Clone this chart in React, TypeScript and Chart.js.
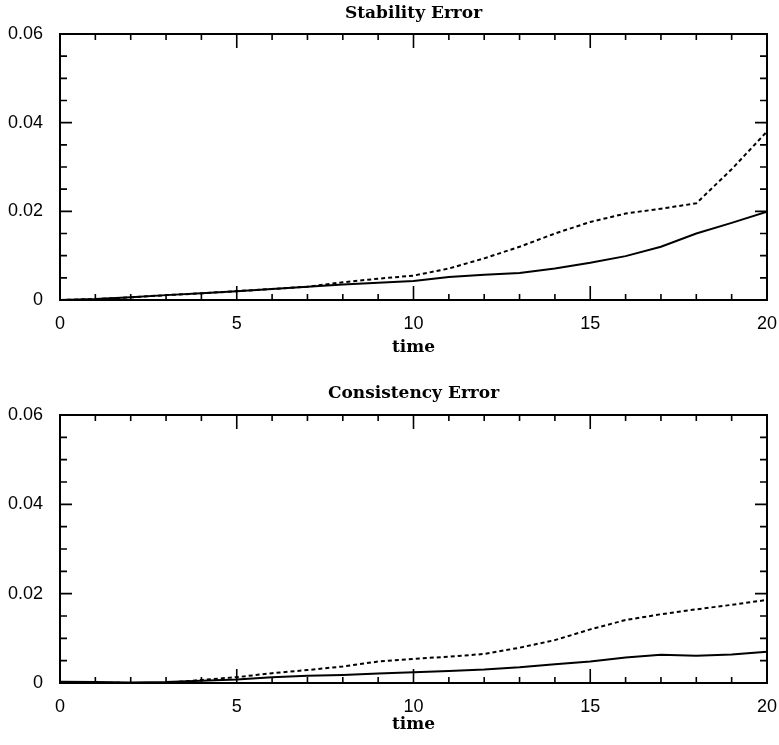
import React, { useEffect, useRef } from "react";
import { Chart, registerables } from "chart.js";

Chart.register(...registerables);

// ---- data ----
const times = [0, 1, 2, 3, 4, 5, 6, 7, 8, 9, 10, 11, 12, 13, 14, 15, 16, 17, 18, 19, 20];

const stabilitySolid = [0, 0.0002, 0.0006, 0.0011, 0.0015, 0.002, 0.0025, 0.003, 0.0035, 0.0039, 0.0043, 0.0052, 0.0057, 0.0061, 0.0071, 0.0084, 0.0099, 0.012, 0.015, 0.0174, 0.0199];
const stabilityDotted = [0, 0.0002, 0.0006, 0.0011, 0.0015, 0.002, 0.0025, 0.003, 0.004, 0.0048, 0.0055, 0.0071, 0.0094, 0.012, 0.015, 0.0176, 0.0195, 0.0206, 0.0218, 0.0295, 0.038];

const consistencySolid = [0.0003, 0.0002, 0.0001, 0.0002, 0.0005, 0.0008, 0.0013, 0.0016, 0.0018, 0.0021, 0.0024, 0.0027, 0.003, 0.0035, 0.0042, 0.0048, 0.0057, 0.0063, 0.0061, 0.0064, 0.007];
const consistencyDotted = [0.0002, 0.0001, 0, 0, 0.0007, 0.0013, 0.0022, 0.0029, 0.0037, 0.0048, 0.0054, 0.0059, 0.0065, 0.0079, 0.0096, 0.012, 0.0141, 0.0154, 0.0165, 0.0175, 0.0186];

const titles = ["Stability Error", "Consistency Error"];
const xAxisLabel = "time";
const X_MIN = 0, X_MAX = 20, X_MAJOR = 5, X_MINOR = 1;
const Y_MIN = 0, Y_MAX = 0.06, Y_MAJOR = 0.02, Y_MINOR = 0.005;

const TITLE_FONT = "'DejaVu Serif', serif";
const TICK_FONT = "'Liberation Sans', Arial, sans-serif";

const frameTicks = {
  id: "frameTicks",
  afterDraw(chart: any) {
    const { ctx, chartArea } = chart;
    const { left, right, top, bottom } = chartArea;
    const xs = chart.scales.x;
    const ys = chart.scales.y;
    ctx.save();
    ctx.strokeStyle = "#000";
    ctx.lineWidth = 2;
    ctx.strokeRect(left, top, right - left, bottom - top);
    ctx.lineWidth = 1.6;
    ctx.beginPath();
    const nx = Math.round((X_MAX - X_MIN) / X_MINOR);
    for (let i = 0; i <= nx; i++) {
      const v = X_MIN + i * X_MINOR;
      const px = xs.getPixelForValue(v);
      const major = Math.abs(v / X_MAJOR - Math.round(v / X_MAJOR)) < 1e-6;
      const len = major ? 14 : 6;
      ctx.moveTo(px, bottom);
      ctx.lineTo(px, bottom - len);
      ctx.moveTo(px, top);
      ctx.lineTo(px, top + len);
    }
    const ny = Math.round((Y_MAX - Y_MIN) / Y_MINOR);
    for (let i = 0; i <= ny; i++) {
      const v = Y_MIN + i * Y_MINOR;
      const py = ys.getPixelForValue(v);
      const major = Math.abs(v / Y_MAJOR - Math.round(v / Y_MAJOR)) < 1e-6;
      const len = major ? 12 : 7;
      ctx.moveTo(left, py);
      ctx.lineTo(left + len, py);
      ctx.moveTo(right, py);
      ctx.lineTo(right - len, py);
    }
    ctx.stroke();
    ctx.restore();
  },
};

function ErrorChart(props: {
  title: string;
  solid: number[];
  dotted: number[];
  height: number;
  topHeight: number;
  titlePadTop: number;
  xAxisHeight: number;
  xTitlePadBottom: number;
}) {
  const ref = useRef<HTMLCanvasElement | null>(null);
  useEffect(() => {
    if (!ref.current) return;
    const toPts = (arr: number[]) => times.map((t, i) => ({ x: t, y: arr[i] }));
    const titleFont = { family: TITLE_FONT, size: 17, weight: "bold", lineHeight: 1.2 };
    const chart = new Chart(ref.current, {
      type: "line",
      data: {
        datasets: [
          {
            label: "dotted",
            data: toPts(props.dotted),
            borderColor: "#000",
            borderWidth: 2,
            borderDash: [4, 3],
            pointRadius: 0,
            tension: 0,
            fill: false,
          },
          {
            label: "solid",
            data: toPts(props.solid),
            borderColor: "#000",
            borderWidth: 2,
            pointRadius: 0,
            tension: 0,
            fill: false,
          },
        ],
      },
      options: {
        animation: false,
        responsive: false,
        maintainAspectRatio: false,
        layout: { padding: { left: 0, right: 12, top: 0, bottom: 0 } },
        plugins: {
          legend: { display: false },
          tooltip: { enabled: false },
          title: { display: false },
        },
        scales: {
          x: {
            type: "linear",
            min: X_MIN,
            max: X_MAX,
            grid: { display: false, drawTicks: false },
            border: { display: false },
            ticks: {
              stepSize: X_MAJOR,
              color: "#000",
              padding: 13,
              maxRotation: 0,
              font: { family: TICK_FONT, size: 18 },
            },
            title: {
              display: true,
              text: xAxisLabel,
              color: "#000",
              font: titleFont,
              padding: { top: 0, bottom: props.xTitlePadBottom },
            },
            afterFit: (scale: any) => {
              scale.height = props.xAxisHeight;
              scale.paddingLeft = 0;
              scale.paddingRight = 0;
            },
          },
          xTop: {
            type: "linear",
            position: "top",
            min: X_MIN,
            max: X_MAX,
            grid: { display: false, drawTicks: false },
            border: { display: false },
            ticks: { display: false },
            title: {
              display: true,
              text: props.title,
              color: "#000",
              font: titleFont,
              padding: { top: props.titlePadTop, bottom: 0 },
            },
            afterFit: (scale: any) => {
              scale.height = props.topHeight;
              scale.paddingLeft = 0;
              scale.paddingRight = 0;
            },
          },
          y: {
            type: "linear",
            min: Y_MIN,
            max: Y_MAX,
            grid: { display: false, drawTicks: false },
            border: { display: false },
            ticks: {
              stepSize: Y_MAJOR,
              color: "#000",
              padding: 17,
              font: { family: TICK_FONT, size: 18 },
              callback: (v: any) => (Number(v) === 0 ? "0" : Number(v).toFixed(2)),
            },
            afterFit: (scale: any) => {
              scale.width = 60;
            },
          },
        },
      },
      plugins: [frameTicks],
    } as any);
    return () => chart.destroy();
  }, []);
  return <canvas ref={ref} width={779} height={props.height} style={{ display: "block" }} />;
}

export default function App() {
  return (
    <div style={{ position: "absolute", left: 0, top: 0, width: 779, height: 745, background: "#fff" }}>
      <ErrorChart
        title={titles[0]}
        solid={stabilitySolid}
        dotted={stabilityDotted}
        height={372}
        topHeight={34}
        titlePadTop={3}
        xAxisHeight={72}
        xTitlePadBottom={13.8}
      />
      <ErrorChart
        title={titles[1]}
        solid={consistencySolid}
        dotted={consistencyDotted}
        height={373}
        topHeight={43}
        titlePadTop={11}
        xAxisHeight={62}
        xTitlePadBottom={10}
      />
    </div>
  );
}
